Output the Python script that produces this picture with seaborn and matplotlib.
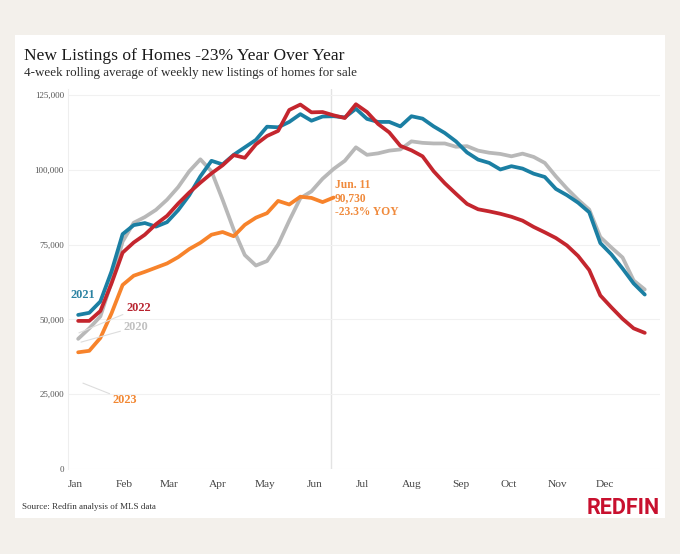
import pandas as pd
import matplotlib.pyplot as plt
import seaborn as sns
from matplotlib.patches import Rectangle

# Weekly new listings (4-week rolling avg)
listings_2020 = [43.5, 47, 51, 62.5, 76, 82.3, 84.2, 86.6, 90, 94.2, 99.5, 103.5, 99.5, 90,
                 80, 71.5, 68, 69.5, 75, 83, 90.5, 92.8, 97, 100.3, 103, 107.5, 105, 105.5,
                 106.4, 106.8, 109.5, 109, 108.8, 108.8, 107.7, 107.9, 106.4, 105.7, 105.3,
                 104.5, 105.4, 104.3, 102.3, 97.8, 93.7, 90, 86.7, 77.5, 74, 70.7, 63, 60]
listings_2021 = [51.5, 52.2, 56, 66, 78.5, 81.5, 82.2, 81, 82.5, 86.5, 91.5, 97.8, 103, 101.8,
                 105, 107.5, 110, 114.4, 114.2, 116, 118.6, 116.4, 117.8, 117.9, 117.5, 120.4,
                 117, 116, 116, 114.5, 117.9, 117.1, 114.5, 112.3, 109.5, 105.8, 103.4, 102.3,
                 100.1, 101.2, 100.4, 98.7, 97.6, 93.6, 91.5, 89, 85.8, 75.5, 71.7, 67, 62, 58.3]
listings_2022 = [49.5, 49.5, 52.8, 62, 72.3, 75.7, 78.3, 81.8, 84.6, 88.7, 92.4, 95.7, 98.8,
                 101.5, 104.9, 104, 108.5, 111.3, 113, 120, 121.8, 119.2, 119.3, 118.2, 117.3,
                 121.9, 119.3, 115.3, 112.5, 108, 106.5, 104.5, 99.5, 95.5, 92, 88.6, 86.8,
                 86.1, 85.3, 84.3, 83, 80.9, 79.1, 77.2, 74.7, 71.2, 66.5, 58, 54, 50.2, 47, 45.5]
listings_2023 = [39, 39.5, 43.8, 52, 61.5, 64.6, 65.9, 67.3, 68.7, 70.8, 73.5, 75.6, 78.3, 79.2,
                 77.8, 81.6, 84, 85.5, 89.6, 88.4, 91, 90.6, 89.2, 90.73]

years = ['2020', '2021', '2022', '2023']
colors = ['#b8b8b8', '#1b7fa3', '#c4262e', '#f7832b']
months = ['Jan', 'Feb', 'Mar', 'Apr', 'May', 'Jun', 'Jul', 'Aug', 'Sep', 'Oct', 'Nov', 'Dec']
month_start_day = [1, 32, 60, 91, 121, 152, 182, 213, 244, 274, 305, 335]
y_ticks = [0, 25000, 50000, 75000, 100000, 125000]

# Build a long table: weeks are placed by day of year
rows = []
for yr, vals in zip(years, [listings_2020, listings_2021, listings_2022, listings_2023]):
    for i, v in enumerate(vals):
        rows.append({'day': 3 + 7 * i, 'listings': v * 1000, 'year': yr})
df = pd.DataFrame(rows)

sns.set_theme(style='white')
plt.rcParams['font.family'] = ['Liberation Serif', 'DejaVu Serif']

fig = plt.figure(figsize=(6.8, 5.54), dpi=100, facecolor='#f3f0eb')
fig.patches.append(Rectangle((15 / 680, 1 - 518 / 554), 650 / 680, 483 / 554,
                             transform=fig.transFigure, facecolor='white',
                             edgecolor='none', zorder=-1))

ax = fig.add_axes([68 / 680, 1 - 469 / 554, 592 / 680, 380 / 554])
ax.set_facecolor('none')

sns.lineplot(data=df, x='day', y='listings', hue='year', hue_order=years,
             palette=colors, linewidth=2.7, legend=False, ax=ax,
             solid_capstyle='round', solid_joinstyle='round')

ax.set_xlim(-3.4, 369.6)
ax.set_ylim(0, 127000)
ax.set_xticks(month_start_day)
ax.set_xticklabels(months, fontsize=8.2, color='#444444')
ax.set_yticks(y_ticks)
ax.set_yticklabels([f'{t:,}' for t in y_ticks], fontsize=6.5, color='#555555')
ax.tick_params(axis='x', length=0, pad=8)
ax.tick_params(axis='y', length=0, pad=3)
ax.set_xlabel('')
ax.set_ylabel('')
ax.yaxis.grid(True, color='#f1f1f1', linewidth=0.8)
for s in ['top', 'right', 'bottom']:
    ax.spines[s].set_visible(False)
ax.spines['left'].set_color('#eeeeee')
ax.spines['left'].set_linewidth(0.8)

# Jun. 11 marker
ax.axvline(162, color='#e3e3e3', linewidth=1, zorder=0)
ax.text(164.8, 90400, 'Jun. 11\n90,730\n-23.3% YOY', color='#f08a3c', fontsize=8.3,
        fontweight='bold', va='center', ha='left', linespacing=1.15)

# Year labels with light leader lines
leader = dict(arrowstyle='-', color='#dddddd', linewidth=0.8, shrinkA=0, shrinkB=0)
ax.text(6, 58200, '2021', color='#2a82a2', fontsize=8.8, fontweight='bold', ha='center', va='center')
ax.annotate('2022', xy=(3.5, 45500), xytext=(41, 53800), color='#b8232f', fontsize=8.8,
            fontweight='bold', ha='center', va='center', arrowprops=leader)
ax.annotate('2020', xy=(4.8, 42400), xytext=(39.5, 47500), color='#c0c0c0', fontsize=8.8,
            fontweight='bold', ha='center', va='center', arrowprops=leader)
ax.annotate('2023', xy=(6, 28700), xytext=(32.6, 23100), color='#f28630', fontsize=8.8,
            fontweight='bold', ha='center', va='center', arrowprops=leader)

# Titles and footer
fig.text(24 / 680, 1 - 60 / 554, 'New Listings of Homes -23% Year Over Year',
         fontsize=12.6, color='#1a1a1a', va='baseline', ha='left')
fig.text(24 / 680, 1 - 76 / 554, '4-week rolling average of weekly new listings of homes for sale',
         fontsize=9.35, color='#2a2a2a', va='baseline', ha='left')
fig.text(22 / 680, 1 - 507 / 554, 'Source: Redfin analysis of MLS data',
         fontsize=6.5, color='#333333', va='center', ha='left')
fig.text(660 / 680, 1 - 508 / 554, 'REDFIN', fontsize=15.5, fontweight='bold', color='#c8102e',
         family=['Liberation Sans Narrow', 'Roboto', 'DejaVu Sans'],
         fontstretch='condensed', va='center', ha='right')

plt.savefig('out.png', dpi=100, facecolor=fig.get_facecolor())
